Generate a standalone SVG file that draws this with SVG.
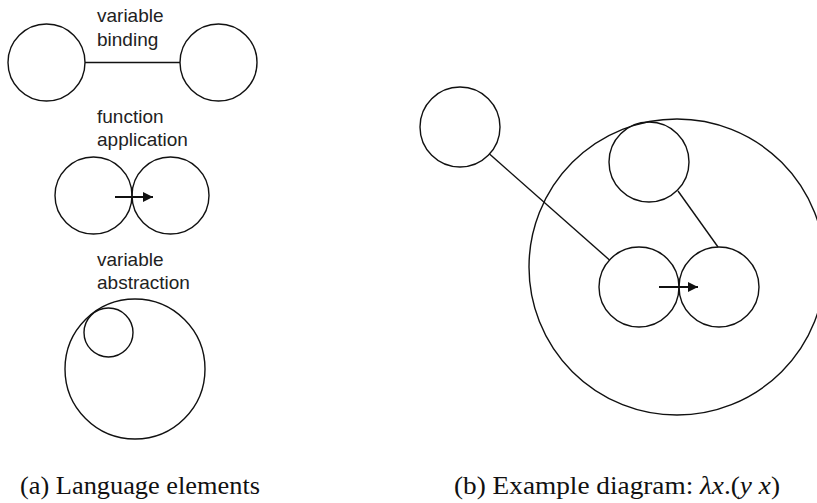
<svg xmlns="http://www.w3.org/2000/svg" width="817" height="503" viewBox="0 0 817 503">
<defs>
<style>
.c{fill:none;stroke:#111;stroke-width:1.4}
.l{fill:none;stroke:#111;stroke-width:1.4}
.a{fill:none;stroke:#111;stroke-width:2}
.t{font-family:"Liberation Sans",Arial,sans-serif;font-size:19px;fill:#222}
.cap{font-family:"Liberation Serif","Times New Roman",serif;font-size:25px;fill:#111}
</style>
<marker id="ah" viewBox="0 0 10 10" refX="10" refY="5" markerWidth="10" markerHeight="10" markerUnits="userSpaceOnUse" orient="auto">
<path d="M0,0 L10,5 L0,10 Z" fill="#111"/>
</marker>
</defs>
<rect width="817" height="503" fill="#fff"/>
<g id="labels">
<text class="t" x="97" y="22">variable</text>
<text class="t" x="97" y="46">binding</text>
<text class="t" x="97" y="123">function</text>
<text class="t" x="97" y="146">application</text>
<text class="t" x="97" y="266">variable</text>
<text class="t" x="97" y="289">abstraction</text>
</g>
<g id="bind-left"><circle class="c" cx="46.5" cy="62.5" r="38.5"/></g>
<g id="bind-right"><circle class="c" cx="218.5" cy="62.5" r="38.5"/></g>
<g id="app-left"><circle class="c" cx="93.5" cy="195.5" r="38.5"/></g>
<g id="app-right"><circle class="c" cx="170.5" cy="195.5" r="38.5"/></g>
<g id="abs-outer"><circle class="c" cx="135" cy="369" r="70"/></g>
<g id="abs-inner"><circle class="c" cx="108.5" cy="332.5" r="24.5"/></g>
<g id="ex-var"><circle class="c" cx="460" cy="127" r="40"/></g>
<g id="ex-lambda"><circle class="c" cx="677" cy="267" r="148"/></g>
<g id="ex-y"><circle class="c" cx="649" cy="162" r="40"/></g>
<g id="ex-app-left"><circle class="c" cx="639" cy="287" r="40"/></g>
<g id="ex-app-right"><circle class="c" cx="719" cy="287" r="40"/></g>
<g id="connectors">
<line class="l" x1="85" y1="62.5" x2="180" y2="62.5"/>
<line class="a" x1="115" y1="197" x2="153" y2="197" marker-end="url(#ah)"/>
<line class="l" x1="489.5" y1="154" x2="609.5" y2="260"/>
<line class="l" x1="678" y1="191" x2="718" y2="247"/>
<line class="a" x1="659" y1="287" x2="698" y2="287" marker-end="url(#ah)"/>
</g>
<g id="captions">
<text class="cap" x="20" y="494" textLength="240" lengthAdjust="spacingAndGlyphs">(a) Language elements</text>
<text class="cap" x="454" y="494" textLength="326" lengthAdjust="spacingAndGlyphs">(b) Example diagram: <tspan font-style="italic">λx</tspan>.(<tspan font-style="italic">y x</tspan>)</text>
</g>
</svg>
